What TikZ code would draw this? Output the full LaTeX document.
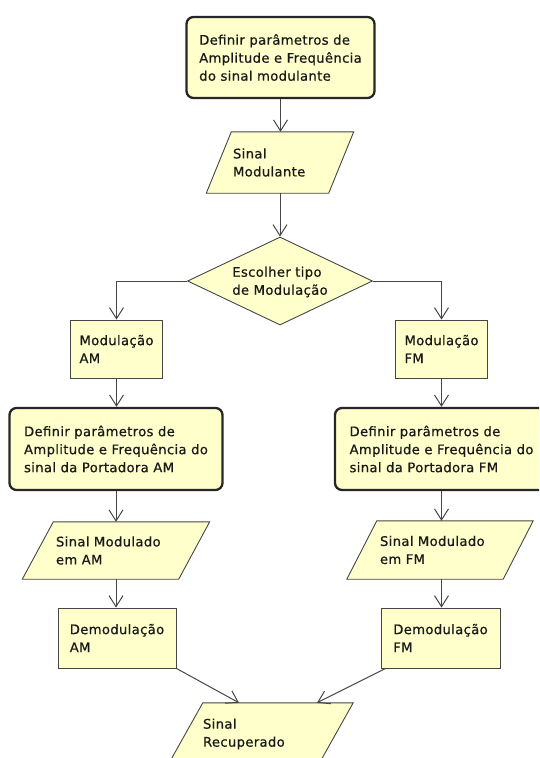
\documentclass[tikz,border=0pt]{standalone}
\usepackage{fontspec}
\setmainfont{DejaVu Sans}[FakeBold=0.6,LetterSpace=2.5]
\usetikzlibrary{arrows.meta,shapes.geometric,calc,backgrounds}
\definecolor{boxfill}{RGB}{255,255,204}
\definecolor{edgec}{RGB}{70,70,70}
\definecolor{txt}{RGB}{25,25,25}
\begin{document}
\begin{tikzpicture}[x=1pt,y=-1pt,
  every node/.style={font=\fontsize{13.2}{18}\selectfont, text=txt},
  proc/.style={draw=edgec, line width=0.9pt, fill=boxfill, align=left, inner sep=0pt},
  defbox/.style={draw=black!85, line width=2.3pt, rounded corners=7pt, fill=boxfill, align=left, inner sep=0pt},
  ptext/.style={draw=none, align=left, inner ysep=0pt},
  pshape/.style={draw=edgec, line width=0.9pt, fill=boxfill},
  decis/.style={diamond, draw=edgec, line width=0.9pt, fill=boxfill, inner sep=0pt, aspect=2.1},
  arr/.style={draw=edgec, line width=1pt, -{Straight Barb[length=11pt,width=14pt]}}]
\useasboundingbox (0,0) rectangle (539,758);
\clip (0,0) rectangle (539,758);

% centre column
\node[defbox, minimum width=188pt, minimum height=81pt] (top) at (280.5,57.5)
  {Definir parâmetros de\\Amplitude e Frequência\\do sinal modulante};
\node[ptext, text width=94pt, inner xsep=14pt, minimum height=61pt] (sm) at (280,162.5)
  {Sinal\\Modulante};
\node[decis, minimum width=185pt, minimum height=88pt] (dia) at (280,281) {};
\node[ptext, inner sep=0pt] (diaT) at (280,282) {Escolher tipo\\de Modulação};

% AM column
\node[proc, minimum width=92pt, minimum height=58pt] (modAM) at (116.5,349) {Modulação\\AM};
\node[defbox, minimum width=213pt, minimum height=82pt] (carAM) at (116,449)
  {Definir parâmetros de\\Amplitude e Frequência do\\sinal da Portadora AM};
\node[ptext, text width=120pt, inner xsep=18pt, minimum height=57pt] (smAM) at (116,550.5)
  {Sinal Modulado\\em AM};
\node[proc, minimum width=118pt, minimum height=60pt] (demAM) at (117,638) {Demodulação\\AM};

% FM column
\node[proc, minimum width=92pt, minimum height=58pt] (modFM) at (441.5,349) {Modulação\\FM};
\node[defbox, minimum width=213pt, minimum height=82pt] (carFM) at (441.5,449)
  {Definir parâmetros de\\Amplitude e Frequência do\\sinal da Portadora FM};
\node[ptext, text width=120pt, inner xsep=18pt, minimum height=58pt] (smFM) at (440,550)
  {Sinal Modulado\\em FM};
\node[proc, minimum width=119pt, minimum height=60pt] (demFM) at (440.5,638) {Demodulação\\FM};

% result
\node[ptext, text width=115pt, inner xsep=17.5pt, minimum height=62pt] (rec) at (260.5,734)
  {Sinal\\Recuperado};

% parallelogram outlines behind the texts
\begin{scope}[on background layer]
  \foreach \n/\s in {sm/12.5, smAM/15.5, smFM/15, rec/17.5} {
    \draw[pshape] ($(\n.north west)+(\s,0)$) -- ($(\n.north east)+(\s,0)$)
      -- ($(\n.south east)-(\s,0)$) -- ($(\n.south west)-(\s,0)$) -- cycle;
  }
\end{scope}

% connectors
\draw[arr] (top.south) -- (top.south |- sm.north);
\draw[arr] (sm.south) -- (sm.south |- dia.north);
\draw[arr] (dia.west) -| (modAM.north);
\draw[arr] (dia.east) -| (modFM.north);
\draw[arr] (modAM.south) -- (modAM.south |- carAM.north);
\draw[arr] (carAM.south) -- (carAM.south |- smAM.north);
\draw[arr] (carAM.south |- smAM.south) -- (carAM.south |- demAM.north);
\draw[arr] (modFM.south) -- (modFM.south |- carFM.north);
\draw[arr] (carFM.south) -- (carFM.south |- smFM.north);
\draw[arr] (carFM.south |- smFM.south) -- (carFM.south |- demFM.north);
\draw[arr] (demAM.south east) -- ($(rec.north)+(-21.5,0)$);
\draw[arr] ($(demFM.south west)+(5,0)$) -- ($(rec.north)+(56.5,0)$);
\end{tikzpicture}
\end{document}
